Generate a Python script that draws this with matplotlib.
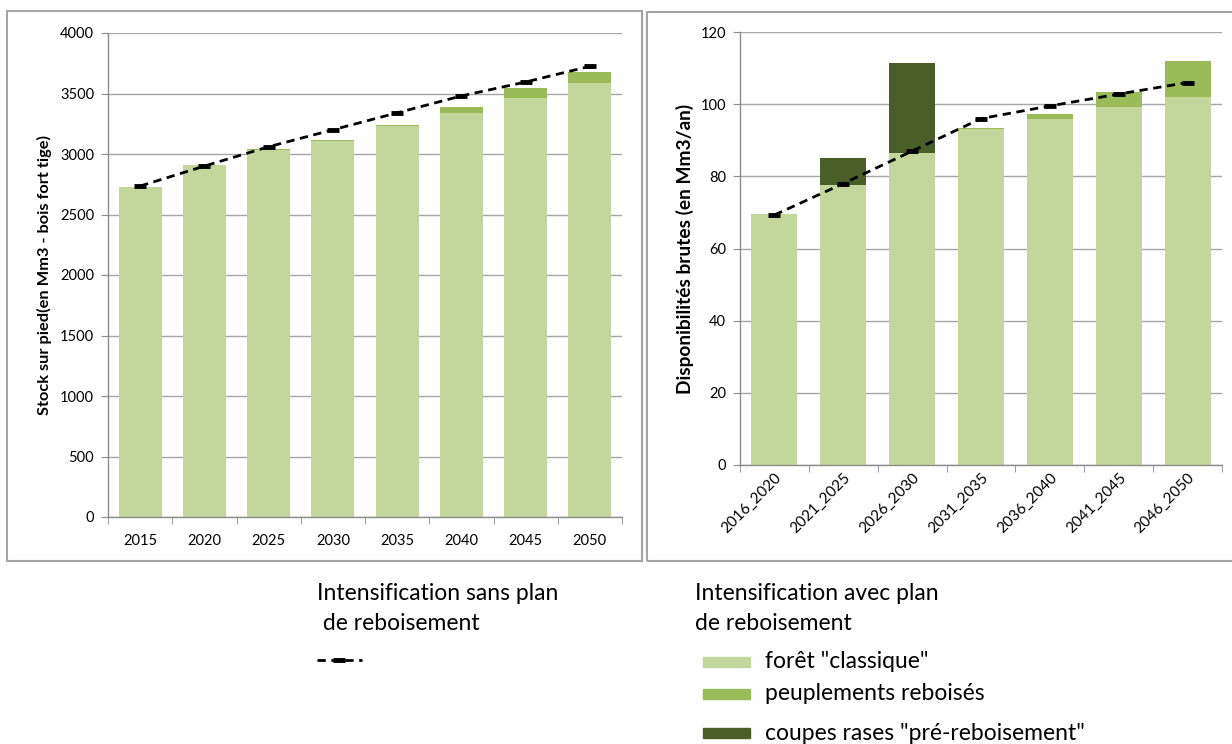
import matplotlib
matplotlib.use("Agg")
import matplotlib.pyplot as plt
from matplotlib.patches import Rectangle
from matplotlib.lines import Line2D
import numpy as np

plt.rcParams['font.family'] = ['Lato', 'DejaVu Sans']

# ---- data ----
left_years = ["2015", "2020", "2025", "2030", "2035", "2040", "2045", "2050"]
left_classique = [2725, 2905, 3035, 3105, 3228, 3340, 3460, 3585]
left_reboises = [0, 5, 10, 8, 10, 50, 88, 95]
left_sans_plan = [2735, 2900, 3060, 3200, 3340, 3480, 3595, 3725]

right_periods = ["2016_2020", "2021_2025", "2026_2030", "2031_2035",
                 "2036_2040", "2041_2045", "2046_2050"]
right_classique = [69.5, 77.5, 86.5, 93.0, 95.8, 99.1, 102.1]
right_reboises = [0.0, 0.0, 0.0, 0.3, 1.4, 4.2, 10.0]
right_coupes = [0.0, 7.5, 24.8, 0.0, 0.0, 0.0, 0.0]
right_sans_plan = [69.3, 78.0, 87.0, 96.0, 99.5, 102.8, 106.0]

legend_left_title = ["Intensification sans plan", " de reboisement"]
legend_right_title = ["Intensification avec plan", "de reboisement"]
legend_labels = ['forêt "classique"', 'peuplements reboisés', 'coupes rases "pré-reboisement"']

C_LIGHT = "#C3D69B"
C_MID = "#9BBB59"
C_DARK = "#4A5E28"
GRID = "#A6A6A6"
SPINE = "#8C8C8C"
FRAME = "#A5A5A5"

W, H = 1232, 744
fig = plt.figure(figsize=(W / 100, H / 100), dpi=100)


def fx(px):
    return px / W


def fy(py):
    return 1 - py / H


# frames
fig.add_artist(Rectangle((fx(7), fy(561)), fx(642) - fx(7), fy(11) - fy(561),
                         transform=fig.transFigure, fill=False, ec=FRAME, lw=1.5))
fig.add_artist(Rectangle((fx(647), fy(561)), fx(1245) - fx(647), fy(12) - fy(561),
                         transform=fig.transFigure, fill=False, ec=FRAME, lw=1.5,
                         clip_on=False))


def style_axes(ax, n):
    for s in ["top", "right"]:
        ax.spines[s].set_visible(False)
    for s in ["left", "bottom"]:
        ax.spines[s].set_color(SPINE)
        ax.spines[s].set_linewidth(1.0)
    ax.yaxis.grid(True, color=GRID, lw=1.0)
    ax.set_axisbelow(True)
    ax.set_xlim(-0.5, n - 0.5)
    ax.set_xticks(np.arange(n))
    ax.set_xticks(np.arange(n + 1) - 0.5, minor=True)
    ax.tick_params(axis='x', which='major', length=0, labelsize=10.5, pad=12)
    ax.tick_params(axis='x', which='minor', length=5, color=SPINE, direction='out')
    ax.tick_params(axis='y', length=5, color=SPINE, labelsize=10.5, pad=5)


# ---- left chart ----
axL = fig.add_axes([fx(108), fy(517), fx(622) - fx(108), fy(33) - fy(517)])
xL = np.arange(len(left_years))
axL.bar(xL, left_classique, width=0.67, color=C_LIGHT, zorder=2)
axL.bar(xL, left_reboises, bottom=left_classique, width=0.67, color=C_MID, zorder=2)
axL.plot(xL, left_sans_plan, color='black', lw=2, ls=(0, (3, 2)), marker='_',
         markersize=9, mew=3.5, zorder=3)
style_axes(axL, len(left_years))
axL.set_ylim(0, 4000)
axL.set_yticks(np.arange(0, 4001, 500))
axL.set_xticklabels(left_years)
axL.set_ylabel("Stock sur pied(en Mm3 - bois fort tige)", fontsize=11.8,
               fontweight='bold', labelpad=6)

# ---- right chart ----
axR = fig.add_axes([fx(740), fy(465), fx(1222) - fx(740), fy(32) - fy(465)])
xR = np.arange(len(right_periods))
bot2 = np.array(right_classique) + np.array(right_reboises)
axR.bar(xR, right_classique, width=0.67, color=C_LIGHT, zorder=2)
axR.bar(xR, right_reboises, bottom=right_classique, width=0.67, color=C_MID, zorder=2)
axR.bar(xR, right_coupes, bottom=bot2, width=0.67, color=C_DARK, zorder=2)
axR.plot(xR, right_sans_plan, color='black', lw=2, ls=(0, (3, 2)), marker='_',
         markersize=9, mew=3.5, zorder=3)
style_axes(axR, len(right_periods))
axR.set_ylim(0, 120)
axR.set_yticks(np.arange(0, 121, 20))
axR.set_xticklabels(right_periods, rotation=45, ha='right', rotation_mode='anchor')
axR.tick_params(axis='x', which='major', pad=4, labelsize=11)
axR.set_ylabel("Disponibilités brutes (en Mm3/an)", fontsize=13.8,
               fontweight='bold', labelpad=5)

# ---- legends ----
for i, t in enumerate(legend_left_title):
    fig.text(fx(317), fy(593 + 31 * i), t, fontsize=16.5, va='center', ha='left')
for i, t in enumerate(legend_right_title):
    fig.text(fx(695), fy(593 + 31 * i), t, fontsize=16.5, va='center', ha='left')

fig.add_artist(Line2D([fx(317), fx(339), fx(362)], [fy(660)] * 3,
                      transform=fig.transFigure, color='black', lw=2,
                      ls=(0, (3, 2)), marker='_', markersize=9, mew=3.5,
                      markevery=[1]))

patch_y = [662, 694, 733]
patch_c = [C_LIGHT, C_MID, C_DARK]
for yy, cc, lab in zip(patch_y, patch_c, legend_labels):
    fig.add_artist(Rectangle((fx(703), fy(yy + 5)), fx(750) - fx(703), fy(yy - 5) - fy(yy + 5),
                             transform=fig.transFigure, color=cc))
    fig.text(fx(765), fy(yy), lab, fontsize=16.5, va='center', ha='left')

fig.savefig("out.png", dpi=100)
